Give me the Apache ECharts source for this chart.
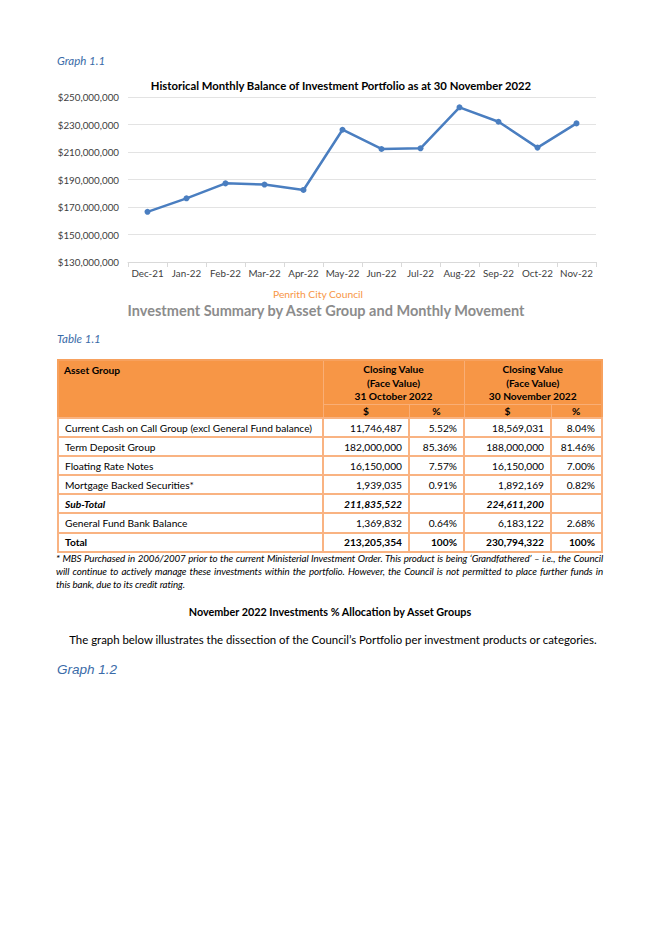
<!DOCTYPE html>
<html>
<head>
<meta charset="utf-8">
<script src="https://cdn.jsdelivr.net/npm/echarts@6/dist/echarts.min.js"></script>
<style>
  html, body { margin: 0; padding: 0; background: #fff; }
  body { width: 656px; height: 928px; position: relative; overflow: hidden; font-family: Lato, "Open Sans", sans-serif; color: #000; }
  .abs { position: absolute; white-space: nowrap; }
  .cap { font-style: italic; color: #3A6BA8; font-size: 11.5px; left: 57px; }
  #chart { position: absolute; left: 0; top: 70px; width: 656px; height: 230px; }
  table { position: absolute; left: 57px; top: 359px; width: 544px; border-collapse: collapse; table-layout: fixed; font-size: 10.2px; border: 2px solid #F7A15E; }
  td { border: 2px solid #F9B382; padding: 0 6px; overflow: hidden; white-space: nowrap; line-height: 12px; }
  td.num { text-align: right; }
  tr.body { height: 19.1px; }
  th { background: #F79646; font-weight: bold; padding: 0; border-left: 1px solid #F9AE76; border-right: 1px solid #F9AE76; }
  .foot { position: absolute; left: 56px; width: 547px; font-style: italic; font-size: 9.8px; line-height: 13px; letter-spacing: -0.12px; }
  .foot div { text-align: justify; text-align-last: justify; white-space: nowrap; }
  .foot div.last { text-align-last: left; }
</style>
</head>
<body>
<div class="abs cap" style="top:54px;">Graph 1.1</div>
<div id="chart"></div>
<div class="abs" style="left:0;width:636px;text-align:center;top:288px;font-size:10.3px;color:#F79646;">Penrith City Council</div>
<div class="abs" style="left:0;width:652px;text-align:center;top:302px;font-size:14.5px;font-weight:bold;color:#8C8C8C;">Investment Summary by Asset Group and Monthly Movement</div>
<div class="abs cap" style="top:332px;">Table 1.1</div>
<table id="tbl"></table>
<div class="foot" style="top:552px;" id="foot"></div>
<div class="abs" style="left:0;width:660px;text-align:center;top:605px;font-size:10.8px;font-weight:bold;">November 2022 Investments % Allocation by Asset Groups</div>
<div class="abs" style="left:0;width:666px;text-align:center;top:633px;font-size:11.4px;">The graph below illustrates the dissection of the Council’s Portfolio per investment products or categories.</div>
<div class="abs" style="left:57px;top:662px;font-family:'Liberation Sans',Arial,sans-serif;font-style:italic;font-size:13.5px;color:#3A6BA8;">Graph 1.2</div>

<script>
// ---- Graph 1.1 data ----
const chartTitle = 'Historical Monthly Balance of Investment Portfolio as at 30 November 2022';
const months = ['Dec-21', 'Jan-22', 'Feb-22', 'Mar-22', 'Apr-22', 'May-22', 'Jun-22', 'Jul-22', 'Aug-22', 'Sep-22', 'Oct-22', 'Nov-22'];
const balances = [166500000, 176300000, 187200000, 186300000, 182400000, 226200000, 212200000, 212700000, 242500000, 232000000, 213200000, 230800000];
const yMin = 130000000;
const yMax = 250000000;
const yStep = 20000000;

// ---- Table 1.1 data ----
const assetGroups = ['Current Cash on Call Group (excl General Fund balance)', 'Term Deposit Group', 'Floating Rate Notes', 'Mortgage Backed Securities*', 'Sub-Total', 'General Fund Bank Balance', 'Total'];
const octValues = [11746487, 182000000, 16150000, 1939035, 211835522, 1369832, 213205354];
const octPct = ['5.52%', '85.36%', '7.57%', '0.91%', '', '0.64%', '100%'];
const novValues = [18569031, 188000000, 16150000, 1892169, 224611200, 6183122, 230794322];
const novPct = ['8.04%', '81.46%', '7.00%', '0.82%', '', '2.68%', '100%'];
const headerLeft = 'Asset Group';
const headerOct = ['Closing Value', '(Face Value)', '31 October 2022'];
const headerNov = ['Closing Value', '(Face Value)', '30 November 2022'];
const footLines = [
  '* MBS Purchased in 2006/2007 prior to the current Ministerial Investment Order. This product is being ‘Grandfathered’ – i.e., the Council',
  'will continue to actively manage these investments within the portfolio. However, the Council is not permitted to place further funds in',
  'this bank, due to its credit rating.'
];

const fmt = v => v.toLocaleString('en-US');

// Build table
const tbl = document.getElementById('tbl');
let html = '<colgroup><col style="width:265px"><col style="width:86px"><col style="width:55px"><col style="width:87px"><col style="width:51px"></colgroup>';
html += '<tr style="height:44px;"><th rowspan="2" style="text-align:left;vertical-align:top;padding:3px 5px;border-left:none;">' + headerLeft + '</th>' +
        '<th colspan="2" style="line-height:13.3px;text-align:center;padding-top:2px;">' + headerOct.join('<br>') + '</th>' +
        '<th colspan="2" style="line-height:13.3px;text-align:center;padding-top:2px;border-right:none;">' + headerNov.join('<br>') + '</th></tr>';
html += '<tr style="height:14px;line-height:12px;"><th style="border-top:1px solid #F9AE76;">$</th><th style="border-top:1px solid #F9AE76;">%</th><th style="border-top:1px solid #F9AE76;">$</th><th style="border-top:1px solid #F9AE76;border-right:none;">%</th></tr>';
assetGroups.forEach((g, i) => {
  let style = '';
  if (g === 'Sub-Total') style = 'font-weight:bold;font-style:italic;';
  if (g === 'Total') style = 'font-weight:bold;';
  html += '<tr class="body" style="' + style + '"><td>' + g + '</td><td class="num">' + fmt(octValues[i]) + '</td><td class="num">' + octPct[i] +
          '</td><td class="num">' + fmt(novValues[i]) + '</td><td class="num">' + novPct[i] + '</td></tr>';
});
tbl.innerHTML = html;

document.getElementById('foot').innerHTML = footLines.map((l, i) => '<div' + (i === footLines.length - 1 ? ' class="last"' : '') + '>' + l + '</div>').join('');

// Chart
const chart = echarts.init(document.getElementById('chart'), null, { renderer: 'svg' });
chart.setOption({
  animation: false,
  title: {
    text: chartTitle,
    left: 341,
    top: 10,
    padding: 0,
    textAlign: 'center',
    textStyle: { fontFamily: 'Lato', fontSize: 11.3, fontWeight: 'bold', color: '#000' }
  },
  grid: { left: 128, right: 60, top: 27, bottom: 38, containLabel: false },
  xAxis: {
    type: 'category',
    data: months,
    boundaryGap: true,
    axisLine: { lineStyle: { color: '#D9D9D9', width: 1 } },
    axisTick: { show: true, alignWithLabel: false, interval: 0, length: 5, lineStyle: { color: '#D9D9D9' } },
    axisLabel: { interval: 0, color: '#404040', fontFamily: 'Lato', fontSize: 9.8, margin: 6 }
  },
  yAxis: {
    type: 'value',
    min: yMin,
    max: yMax,
    interval: yStep,
    axisLine: { show: false },
    axisTick: { show: false },
    splitLine: { lineStyle: { color: '#E3E3E3', width: 1 } },
    axisLabel: { color: '#404040', fontFamily: 'Lato', fontSize: 9.8, margin: 9, formatter: v => '$' + fmt(v) }
  },
  series: [{
    type: 'line',
    data: balances,
    symbol: 'circle',
    symbolSize: 6,
    lineStyle: { color: '#4A7EC0', width: 2.5 },
    itemStyle: { color: '#4A7EC0' }
  }]
});
</script>
</body>
</html>
